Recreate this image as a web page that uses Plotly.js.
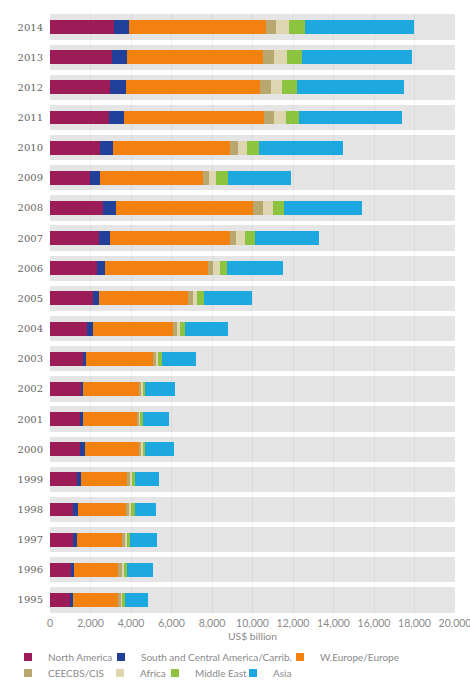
<!DOCTYPE html>
<html>
<head>
<meta charset="utf-8">
<script src="https://cdn.plot.ly/plotly-3.0.1.min.js"></script>
<style>
  html, body { margin: 0; padding: 0; background: #ffffff; }
  #chart { width: 470px; height: 680px; }
</style>
</head>
<body>
<div id="chart"></div>
<script>
// Categories (years), bottom to top
const years = ['1995','1996','1997','1998','1999','2000','2001','2002','2003','2004',
               '2005','2006','2007','2008','2009','2010','2011','2012','2013','2014'];

// Series values, US$ billion (same order as years)
const northAmerica = [990,1020,1120,1150,1320,1480,1480,1530,1650,1810,2110,2300,2440,2630,1980,2470,2910,2980,3050,3160];
const southCentral = [130,170,200,250,190,250,130,120,130,300,290,430,520,630,490,630,740,790,750,730];
const wEurope      = [2250,2180,2220,2350,2280,2680,2670,2760,3320,3980,4430,5090,5930,6740,5100,5790,6930,6600,6700,6790];
const ceecbs       = [120,170,160,170,160,100,100,100,130,200,250,250,310,500,280,410,500,530,580,470];
const africa       = [70,110,120,100,100,70,50,70,100,130,200,330,430,500,350,440,570,540,610,630];
const middleEast   = [140,140,130,160,150,110,170,90,180,250,320,320,490,570,570,580,650,740,740,820];
const asia         = [1160,1280,1350,1050,1200,1430,1290,1500,1700,2130,2360,2800,3180,3830,3110,4170,5100,5320,5470,5380];

const seriesNames  = ['North America','South and Central America/Carrib.','W.Europe/Europe',
                      'CEECBS/CIS','Africa','Middle East','Asia'];
const seriesData   = [northAmerica, southCentral, wEurope, ceecbs, africa, middleEast, asia];
const seriesColors = ['#9b1c56','#21409a','#f28110','#b8a86f','#ddd6b0','#8cc43f','#1ea8e0'];
const axisMax = 20000;
const tickValues = [0,2000,4000,6000,8000,10000,12000,14000,16000,18000,20000];
const tickLabels = ['0','2,000','4,000','6,000','8,000','10,000','12,000','14,000','16,000','18,000','20,000'];

// legend placement (container pixels): left edge of entry, row centre
const legendX = [8, 101, 280, 8, 100, 155, 233];
const legendY = [657, 657, 657, 673, 673, 673, 673];
const legendIds = ['legend','legend2','legend3','legend4','legend5','legend6','legend7'];

const traces = [];
// background bands
traces.push({
  type: 'bar', orientation: 'h', y: years, x: years.map(() => axisMax),
  width: 0.84, marker: { color: 'rgba(0,0,0,0.1)', line: { width: 0 } },
  showlegend: false, hoverinfo: 'skip'
});

const cumulative = years.map(() => 0);
seriesData.forEach((vals, i) => {
  const base = cumulative.slice();
  vals.forEach((v, j) => { cumulative[j] += v; });
  traces.push({
    type: 'bar', orientation: 'h', y: years, x: vals, base: base,
    width: 0.46, name: seriesNames[i], legendgroup: seriesNames[i],
    marker: { color: seriesColors[i], line: { width: 0 } },
    showlegend: false
  });
});
// legend key entries (small square swatches)
seriesNames.forEach((nm, i) => {
  traces.push({
    type: 'scatter', mode: 'markers', x: [null], y: [null], name: nm,
    legendgroup: nm, legend: legendIds[i], showlegend: true,
    marker: { symbol: 'square', size: 8, color: seriesColors[i] },
    hoverinfo: 'skip'
  });
});

const fontFam = 'Lato, "Open Sans", sans-serif';
const legendFont = { family: fontFam, size: 10, color: '#8a8a8a' };

const layout = {
  width: 470, height: 680,
  margin: { l: 50, r: 15, t: 12, b: 65 },
  paper_bgcolor: '#ffffff', plot_bgcolor: '#ffffff',
  barmode: 'overlay', bargap: 0,
  showlegend: true,
  xaxis: {
    range: [0, 20000], tickmode: 'array', tickvals: tickValues, ticktext: tickLabels,
    ticklabeloverflow: 'allow',
    showgrid: true, gridcolor: '#f3f3f3', gridwidth: 1,
    zeroline: false, showline: false, ticks: '', automargin: false,
    tickfont: { family: fontFam, size: 10.5, color: '#8a8a8a' },
    title: { text: 'US$ billion', standoff: 12,
             font: { family: fontFam, size: 10.3, color: '#8a8a8a' } },
    fixedrange: true
  },
  yaxis: {
    type: 'category', range: [-0.5, 19.5],
    showgrid: false, zeroline: false, showline: false, ticks: '',
    ticklabelstandoff: 6,
    tickfont: { family: '"DejaVu Serif", "Liberation Serif", serif', size: 10, color: '#666666' },
    fixedrange: true
  }
};

legendIds.forEach((id, i) => {
  layout[id] = {
    orientation: 'h', xref: 'container', yref: 'container',
    x: legendX[i] / 470, y: 1 - legendY[i] / 680,
    xanchor: 'left', yanchor: 'middle',
    font: legendFont, itemwidth: 30, bgcolor: 'rgba(0,0,0,0)', borderwidth: 0
  };
});

Plotly.newPlot('chart', traces, layout, { displayModeBar: false, staticPlot: true });
</script>
</body>
</html>
